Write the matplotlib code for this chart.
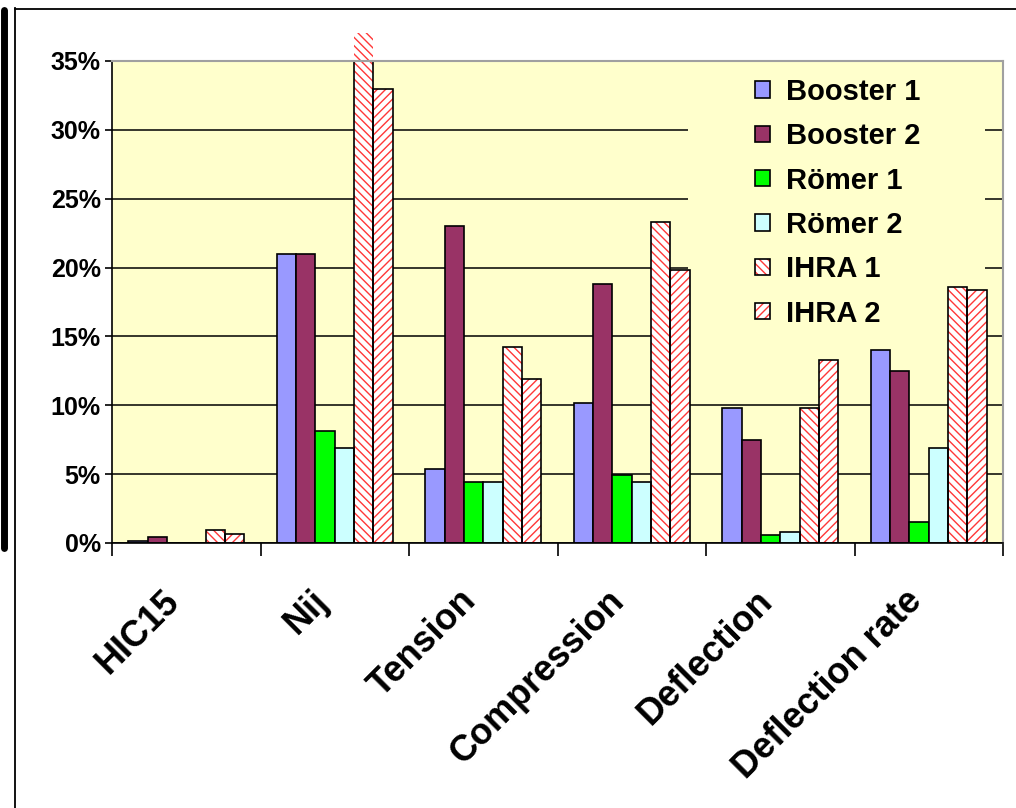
import numpy as np
import matplotlib
matplotlib.use("Agg")
import matplotlib.pyplot as plt
from matplotlib.patches import Patch, Rectangle
from matplotlib.lines import Line2D
from matplotlib.legend_handler import HandlerTuple
from matplotlib.ticker import PercentFormatter

plt.rcParams['font.family'] = ['Liberation Sans', 'DejaVu Sans']
plt.rcParams['hatch.linewidth'] = 1.0

categories = ["HIC15", "Nij", "Tension", "Compression", "Deflection", "Deflection rate"]
series_names = ["Booster 1", "Booster 2", "Römer 1", "Römer 2", "IHRA 1", "IHRA 2"]
booster1 = [0.15, 21.0, 5.4, 10.2, 9.8, 14.0]
booster2 = [0.45, 21.0, 23.0, 18.8, 7.5, 12.5]
roemer1 = [0.0, 8.1, 4.4, 4.95, 0.55, 1.55]
roemer2 = [0.0, 6.9, 4.4, 4.4, 0.8, 6.9]
ihra1 = [0.97, 37.0, 14.2, 23.3, 9.8, 18.6]
ihra2 = [0.65, 33.0, 11.9, 19.8, 13.3, 18.4]
yticks = [0, 5, 10, 15, 20, 25, 30, 35]

series = [booster1, booster2, roemer1, roemer2, ihra1, ihra2]
colors = ["#9999FF", "#993366", "#00FF00", "#CCFFFF", "white", "white"]
hatches = [None, None, None, None, "\\\\\\\\", "////"]
hatch_color = "#FF3838"
plot_bg = "#FFFFCC"

fig = plt.figure(figsize=(10.16, 8.08), dpi=100)
ax = fig.add_axes([112/1016, (808-543)/808, (1003-112)/1016, (543-61)/808])
ax.set_facecolor(plot_bg)

x = np.arange(len(categories))
w = 0.13
for j, (vals, c, h) in enumerate(zip(series, colors, hatches)):
    pos = x + (j - 2.5) * w
    if h is None:
        ax.bar(pos, vals, width=w, color=c, edgecolor="black", linewidth=1.2, zorder=2)
    else:
        ax.bar(pos, vals, width=w, color="white", edgecolor=hatch_color, linewidth=0,
               hatch=h, zorder=1.9, clip_on=False)
        ax.bar(pos, vals, width=w, color="none", edgecolor="black", linewidth=1.2, zorder=2)

ax.set_xlim(-0.5, len(categories) - 0.5)
ax.set_ylim(0, 35)
ax.set_yticks(yticks)
ax.yaxis.set_major_formatter(PercentFormatter(decimals=0))
ax.tick_params(axis='y', length=5, width=1.2, pad=3, labelsize=18, color='black')
for lbl in ax.get_yticklabels():
    lbl.set_fontweight('bold')

ax.set_xticks(np.arange(-0.5, len(categories), 1.0))
ax.set_xticklabels([])
ax.set_xticks(x, minor=True)
ax.set_xticklabels(categories, minor=True)
ax.tick_params(axis='x', which='major', length=9.5, width=1.2, direction='out')
ax.tick_params(axis='x', which='minor', length=0, pad=29, labelsize=26)
for lbl in ax.get_xticklabels(minor=True):
    lbl.set_rotation(45)
    lbl.set_ha('right')
    lbl.set_va('top')
    lbl.set_fontweight('bold')

ax.set_axisbelow(True)
ax.yaxis.grid(True, color='black', linewidth=1.1)
ax.xaxis.grid(False)

for s in ['left', 'bottom']:
    ax.spines[s].set_color('black')
    ax.spines[s].set_linewidth(1.2)
for s in ['top', 'right']:
    ax.spines[s].set_color('#A0A0A0')
    ax.spines[s].set_linewidth(1.5)

# legend background hiding gridlines
ax.add_patch(Rectangle((0.646, 0.41), 0.334, 0.585, transform=ax.transAxes,
                       facecolor=plot_bg, edgecolor='none', zorder=1))

handles = []
for c, h in zip(colors, hatches):
    if h is None:
        handles.append(Patch(facecolor=c, edgecolor='black', linewidth=1.2))
    else:
        handles.append((Patch(facecolor='white', edgecolor=hatch_color, linewidth=0, hatch=h),
                        Patch(facecolor='none', edgecolor='black', linewidth=1.2)))
leg = ax.legend(handles, series_names, handler_map={tuple: HandlerTuple(ndivide=1, pad=0)},
                loc='upper left', bbox_to_anchor=(0.722, 0.965), frameon=False,
                borderpad=0, borderaxespad=0, prop=dict(size=21, weight='bold'),
                handlelength=0.5, handleheight=0.5, handletextpad=0.55, labelspacing=0.56)

# outer frame decorations
fig.add_artist(Line2D([15/1016, 15/1016], [0, 1 - 8/808], transform=fig.transFigure,
                      color='black', linewidth=1.3))
fig.add_artist(Line2D([15/1016, 1], [1 - 9/808, 1 - 9/808], transform=fig.transFigure,
                      color='black', linewidth=1.3))
fig.add_artist(Line2D([3.5/1016, 3.5/1016], [1 - 10/808, 1 - 548/808], transform=fig.transFigure,
                      color='black', linewidth=5, solid_capstyle='round'))

fig.savefig("out.png", dpi=100, facecolor='white')
